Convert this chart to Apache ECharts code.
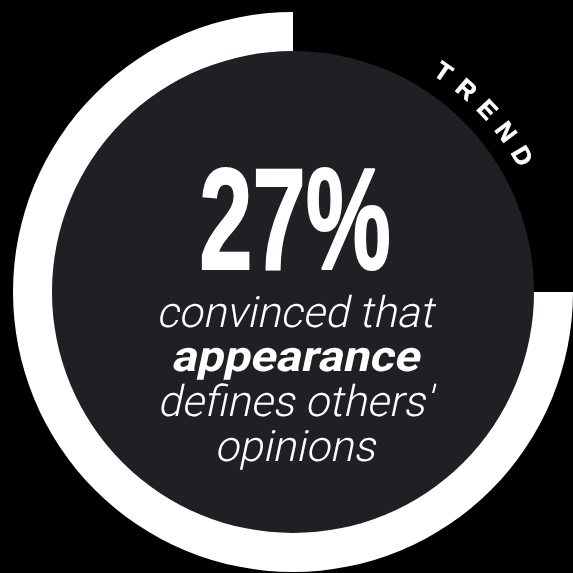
<!DOCTYPE html>
<html>
<head>
<meta charset="utf-8">
<script src="https://cdn.jsdelivr.net/npm/echarts@6/dist/echarts.min.js"></script>
<style>
  html, body { margin: 0; padding: 0; background: #000; }
  #chart { width: 573px; height: 573px; }
</style>
</head>
<body>
<div id="chart"></div>
<script>
// Ring split: filled share vs. open share
const ringLabels = ['filled', 'open'];
const ringValues = [75, 25];

// Headline figure and caption lines
const headlineValue = 27;
const captionLines = ['convinced that', 'appearance', "defines others'", 'opinions'];
const captionBold = [false, true, false, false];
const badgeWord = 'TREND';

const cx = 293, cy = 292;
const innerR = 241, outerR = 280;

const chart = echarts.init(document.getElementById('chart'), null, { renderer: 'canvas' });

// Curved badge letters around the open part of the ring
const badgeRadius = 265;
const badgeStart = 55.7, badgeStep = -6.25;
const badgeGraphics = badgeWord.split('').map((ch, i) => {
  const deg = badgeStart + badgeStep * i;
  const rad = deg * Math.PI / 180;
  return {
    type: 'text',
    z: 100,
    x: cx + badgeRadius * Math.cos(rad),
    y: cy - badgeRadius * Math.sin(rad),
    rotation: (deg - 90) * Math.PI / 180,
    style: {
      text: ch,
      fill: '#ffffff',
      stroke: '#ffffff',
      lineWidth: 0.6,
      fontFamily: '"Liberation Sans", Arial, sans-serif',
      fontWeight: 'bold',
      fontSize: 25,
      align: 'center',
      verticalAlign: 'middle'
    }
  };
});

// Caption lines, slanted like an oblique face
const captionY = [316, 360, 405, 450];
const captionGraphics = captionLines.map((line, i) => ({
  type: 'text',
  z: 100,
  x: 297,
  y: captionY[i],
  scaleX: captionBold[i] ? 1.1 : 1.0,
  skewX: -0.21,
  style: {
    text: line,
    fill: '#ffffff',
    fontFamily: 'Roboto, sans-serif',
    fontWeight: captionBold[i] ? 'bold' : 300,
    fontSize: 43,
    align: 'center',
    verticalAlign: 'middle'
  }
}));

chart.setOption({
  backgroundColor: '#000000',
  animation: false,
  series: [
    {
      type: 'pie',
      silent: true,
      center: [cx, cy],
      radius: [0, innerR],
      label: { show: false },
      labelLine: { show: false },
      itemStyle: { color: '#1f2024' },
      data: [{ name: 'disc', value: 1 }]
    },
    {
      type: 'pie',
      silent: true,
      center: [cx, cy],
      radius: [innerR, outerR],
      startAngle: 90,
      clockwise: false,
      label: { show: false },
      labelLine: { show: false },
      data: ringLabels.map((n, i) => ({
        name: n,
        value: ringValues[i],
        itemStyle: { color: i === 0 ? '#ffffff' : 'rgba(0,0,0,0)' }
      }))
    }
  ],
  graphic: [
    {
      type: 'text',
      z: 100,
      x: 295,
      y: 229,
      scaleX: 0.66,
      style: {
        text: headlineValue + '%',
        fill: '#ffffff',
        stroke: '#ffffff',
        lineWidth: 2,
        fontFamily: '"Liberation Sans", Arial, sans-serif',
        fontWeight: 'bold',
        fontSize: 145,
        align: 'center',
        verticalAlign: 'middle',
        shadowBlur: 8,
        shadowColor: 'rgba(0,0,0,0.75)',
        shadowOffsetX: 3,
        shadowOffsetY: 3
      }
    },
    ...captionGraphics,
    ...badgeGraphics
  ]
});
</script>
</body>
</html>
